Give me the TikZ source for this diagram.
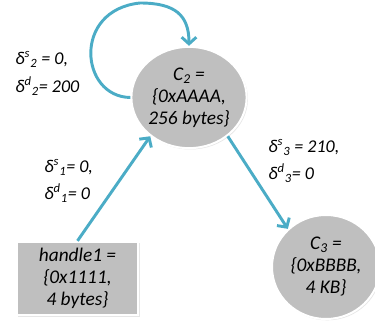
\documentclass[tikz,border=0pt]{standalone}
\usepackage{fontspec}
\setmainfont{Carlito}
\usetikzlibrary{arrows.meta,shapes.geometric,shadows}
\definecolor{linkblue}{RGB}{75,172,198}
\definecolor{cellgray}{RGB}{191,191,191}

\tikzset{
  chunk/.style={ellipse, fill=cellgray, draw=white, line width=1.5pt, inner sep=0pt,
    align=center, font=\fontsize{14.5}{16.5}\selectfont\itshape,
    drop shadow={opacity=0.2, shadow xshift=1pt, shadow yshift=-1pt}},
  handlebox/.style={rectangle, fill=cellgray, draw=white, line width=1.5pt, inner sep=0pt,
    align=center, font=\fontsize{14.5}{16.5}\selectfont\itshape,
    drop shadow={opacity=0.2, shadow xshift=1pt, shadow yshift=-1pt}},
  offsets/.style={anchor=west, inner sep=0.75pt, align=left,
    font=\fontsize{13.5}{20.5}\selectfont\itshape},
  link/.style={draw=linkblue, line width=2.2pt,
    -{Straight Barb[length=5pt, width=11pt, line width=2.2pt]}}
}

\begin{document}
\begin{tikzpicture}[x=0.75pt,y=0.75pt,yscale=-1,xscale=1]
\useasboundingbox (0,0) rectangle (375,324);
% chunks
\node [chunk, minimum width=84pt, minimum height=76pt] (c2) at (189,97.5) {C\textsubscript{2} =\\\{0xAAAA,\\256 bytes\}};
\node [chunk, minimum width=81pt, minimum height=78pt] (c3) at (326,267) {C\textsubscript{3} =\\\{0xBBBB,\\4 KB\}};
\node [handlebox, minimum width=91pt, minimum height=55pt] (h1) at (77.5,278.5) {handle1 =\\\{0x1111,\\4 bytes\}};
% offsets
\node [offsets] (d2) at (14,73.5) {δ\textsuperscript{s}\textsubscript{2} = 0,\\δ\textsuperscript{d}\textsubscript{2}= 200};
\node [offsets] (d1) at (43,181) {δ\textsuperscript{s}\textsubscript{1}= 0,\\δ\textsuperscript{d}\textsubscript{1}= 0};
\node [offsets] (d3) at (267,161) {δ\textsuperscript{s}\textsubscript{3} = 210,\\δ\textsuperscript{d}\textsubscript{3}= 0};
% links
\draw [link] (h1.north) -- (c2.225);
\draw [link] (c2.-45) -- (c3.135);
\draw [link] (c2.180) .. controls (80,97) and (72,10) .. (140,3) .. controls (175,3) and (189,15) .. (c2.90);
\end{tikzpicture}
\end{document}
